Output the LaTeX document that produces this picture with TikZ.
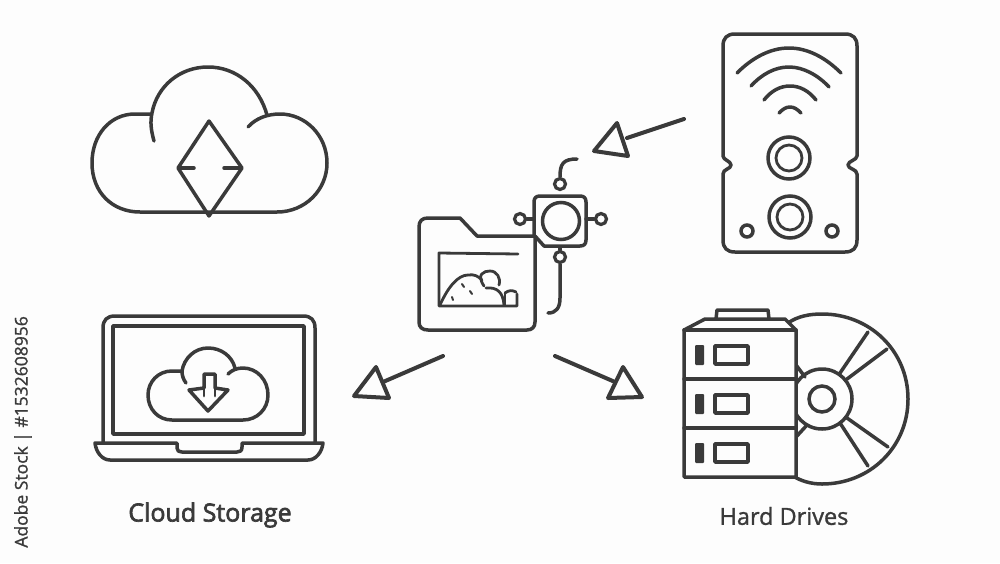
\documentclass[tikz,border=0pt]{standalone}
\usepackage{fontspec}
\setmainfont{Open Sans}
\newfontfamily\lblfont[FakeBold=2.6]{Open Sans}
\newfontfamily\lblfontb[FakeBold=1.2]{Open Sans}
\definecolor{ink}{HTML}{3A3A3A}
\definecolor{paper}{HTML}{FDFDFD}
\tikzset{
  ln/.style={draw=ink,line width=3.5pt,line cap=round,line join=round},
  thin ln/.style={draw=ink,line width=2.8pt,line cap=round,line join=round},
  fine ln/.style={draw=ink,line width=2pt,line cap=round,line join=round},
  tiphead/.style={draw=ink,fill=paper,line width=4pt,line join=round},
  shaft/.style={draw=ink,line width=4pt,line cap=round},
  lbl/.style={text=ink,inner sep=0pt,anchor=center},
  port/.style={circle,draw=ink,fill=paper,line width=3.2pt,inner sep=0pt,minimum size=11pt},
  ring/.style={circle,draw=ink,line width=3.5pt,inner sep=0pt},
}
\begin{document}
\begin{tikzpicture}[x=1pt,y=-1pt]
\path[fill=paper] (0,0) rectangle (1000,563);
\useasboundingbox (0,0) rectangle (1000,563);

% Cloud with diamond
\draw[ln] (151,114) -- (135,114) .. controls (110,114) and (92,135) .. (92,163)
  .. controls (92,192) and (112,212) .. (140,212) -- (277,212)
  .. controls (305,212) and (327,190) .. (327,163)
  .. controls (327,135) and (305,114) .. (280,114)
  .. controls (268,114) and (256,118) .. (248,127);
\draw[ln] (154,141) .. controls (151,130) and (150,122) .. (152,113)
  .. controls (157,86) and (180,67) .. (208,67)
  .. controls (236,67) and (259,86) .. (267,115);
\draw[ln] (209,121) -- (242,168) -- (209,216) -- (178,168) -- cycle;
\draw[ln] (180,168) -- (194,168);
\draw[ln] (224,168) -- (241,168);

% Folder
\draw[ln] (535,236) -- (477,236) -- (460,218) -- (428,218)
  .. controls (422,218) and (419,221) .. (419,227) -- (419,322)
  .. controls (419,327) and (422,330) .. (428,330) -- (527,330)
  .. controls (532,330) and (535,327) .. (535,322) -- cycle;
\draw[thin ln] (518,254) -- (439,253) -- (439,306) -- (517,306) -- (517,294);
\draw[thin ln] (440,305) .. controls (448,287) and (458,275) .. (468,275)
  .. controls (474,274) and (478,276) .. (482,280);
\draw[thin ln] (484,286) .. controls (476,274) and (484,271) .. (490,271)
  .. controls (497,271) and (501,278) .. (499,285);
\draw[thin ln] (486,288) .. controls (497,287) and (503,292) .. (504,305);
\draw[thin ln] (505,293) .. controls (509,290) and (512,290) .. (516,292);
\draw[thin ln] (505,293) -- (505,305);
\draw[fine ln] (452,297) -- (453,300);
\draw[fine ln] (462,284) -- (464,287);
\draw[fine ln] (470,291) -- (472,294);

% Hub
\draw[ln] (535,236) -- (544,246) -- (580,246)
  .. controls (584,246) and (586,244) .. (586,240) -- (586,202)
  .. controls (586,198) and (584,196) .. (580,196) -- (540,196)
  .. controls (536,196) and (534,198) .. (534,202) -- (534,236);
\node[ring,minimum size=37pt] (hubc) at (561,221) {};
\coordinate (lstub) at (534,219);
\coordinate (rstub) at (586,219);
\node[port] (pl) at (520,219) {};
\node[port] (pr) at (601,219) {};
\node[port] (pt) at (560,184) {};
\node[port] (pb) at (560,257) {};
\draw[ln] (pl) -- (lstub);
\draw[ln] (pr) -- (rstub);
\draw[ln] (pt.north) .. controls (560,164) and (563,159) .. (577,159);
\draw[ln] (pb.north) -- (560,247);
\draw[ln] (pb.south) -- (560,298) .. controls (560,308) and (556,313) .. (548,313);

% Arrows
\coordinate (a1s) at (684,119); \coordinate (a1e) at (627,138);
\draw[shaft] (a1s) -- (a1e);
\draw[tiphead] (617,123) -- (628,156) -- (594,151) -- cycle;
\coordinate (a2s) at (443,356); \coordinate (a2e) at (383,382);
\draw[shaft] (a2s) -- (a2e);
\draw[tiphead] (376,367) -- (389,398) -- (354,396) -- cycle;
\coordinate (a3s) at (555,356); \coordinate (a3e) at (615,382);
\draw[shaft] (a3s) -- (a3e);
\draw[tiphead] (623,367) -- (642,397) -- (608,398) -- cycle;

% Device
\draw[ln] (735,34) -- (845,34) .. controls (853,34) and (857,38) .. (857,46)
  -- (857,156) .. controls (857,160) and (848,161) .. (848,165)
  .. controls (848,169) and (857,169) .. (857,174)
  -- (857,240) .. controls (857,248) and (853,252) .. (845,252)
  -- (735,252) .. controls (727,252) and (723,248) .. (723,240)
  -- (723,174) .. controls (723,169) and (731,169) .. (731,165)
  .. controls (731,161) and (723,160) .. (723,156)
  -- (723,46) .. controls (723,38) and (727,34) .. (735,34) -- cycle;
\draw[ln] (737,73) .. controls (752,58) and (770,48) .. (789,48) .. controls (808,48) and (826,58) .. (841,73);
\draw[ln] (751,86) .. controls (762,74) and (775,67) .. (789,67) .. controls (803,67) and (818,75) .. (829,87);
\draw[ln] (764,100) .. controls (771,91) and (780,86) .. (790,86) .. controls (800,86) and (809,91) .. (816,100);
\draw[ln] (779,113) .. controls (783,109) and (786,107) .. (790,107) .. controls (794,107) and (797,109) .. (801,113);
\node[ring,minimum size=42pt] (s1o) at (789,158) {};
\node[ring,line width=2.8pt,minimum size=26pt] (s1i) at (789,158) {};
\node[ring,minimum size=42pt] (s2o) at (790,217) {};
\node[ring,line width=2.8pt,minimum size=26pt] (s2i) at (790,217) {};
\node[ring,minimum size=12pt] (d1) at (747,231) {};
\node[ring,minimum size=12pt] (d2) at (832,231) {};

% Laptop
\draw[ln] (103,442) -- (103,328) .. controls (103,320) and (107,316) .. (115,316)
  -- (303,316) .. controls (311,316) and (315,320) .. (315,328) -- (315,442);
\draw[ln] (113,326) rectangle (304,434);
\draw[ln] (95,443) -- (177,443) -- (177,448) .. controls (177,451) and (179,452) .. (182,452)
  -- (237,452) .. controls (240,452) and (242,451) .. (242,447) -- (242,443) -- (323,443)
  .. controls (322,452) and (316,460) .. (308,460) -- (110,460)
  .. controls (102,460) and (96,452) .. (95,443) -- cycle;
\draw[ln] (182,371) -- (172,371) .. controls (158,371) and (148,382) .. (148,395)
  .. controls (148,409) and (158,420) .. (172,420) -- (243,420)
  .. controls (257,420) and (268,409) .. (268,395)
  .. controls (268,380) and (257,368) .. (243,368)
  .. controls (237,368) and (232,370) .. (228,374);
\draw[ln] (186,383) .. controls (183,379) and (182,375) .. (182,371)
  .. controls (184,358) and (195,348) .. (208,348)
  .. controls (221,348) and (232,356) .. (235,368);
\draw[ln] (204,374) -- (215,374) -- (215,388) -- (228,390) -- (208,411) -- (189,390) -- (204,388) -- cycle;
\draw[thin ln] (204,388) -- (204,396);
\draw[thin ln] (215,388) -- (215,396);

% Disc
\draw[ln] (788,323) .. controls (798,316) and (810,314) .. (822,314)
  .. controls (870,314) and (908,351) .. (908,399)
  .. controls (908,447) and (870,484) .. (822,484)
  .. controls (811,484) and (801,481) .. (793,476);
\node[ring,fill=paper,minimum size=60pt] (hub) at (822,399) {};
\node[ring,minimum size=26pt] (hole) at (822,399) {};
\draw[ln] (840,373) -- (868,332);
\draw[ln] (847,379) -- (887,349);
\draw[ln] (847,418) -- (888,447);
\draw[ln] (840,423) -- (868,466);
\draw[ln] (796,365) -- (805,377);
\draw[ln] (796,437) -- (807,425);

% Server stack
\draw[ln,fill=paper] (684,330) -- (705,319) -- (785,319) -- (796,330) -- (796,477) -- (684,477) -- cycle;
\draw[ln] (684,330) -- (796,330);
\draw[ln] (684,379) -- (796,379);
\draw[ln] (684,428) -- (796,428);
\draw[ln] (716,319) -- (717,310) -- (768,310) -- (769,319);
\foreach \yy in {345,394,443}{
  \fill[ink,rounded corners=1pt] (695,\yy) rectangle (704,\yy+20);
  \draw[ln] (715,\yy+1) rectangle (748,\yy+19);
}

% Labels
\node[lbl,font=\lblfont\fontsize{25}{28}\selectfont] (cloudlbl) at (210,515) {Cloud Storage};
\node[lbl,font=\lblfontb\fontsize{23.5}{26}\selectfont] (hardlbl) at (784,516) {Hard Drives};
\node[lbl,rotate=90,anchor=east,font=\lblfontb\fontsize{17.5}{20}\selectfont] (stocklbl) at (23,316) {Adobe Stock | \#1532608956};
\end{tikzpicture}
\end{document}
